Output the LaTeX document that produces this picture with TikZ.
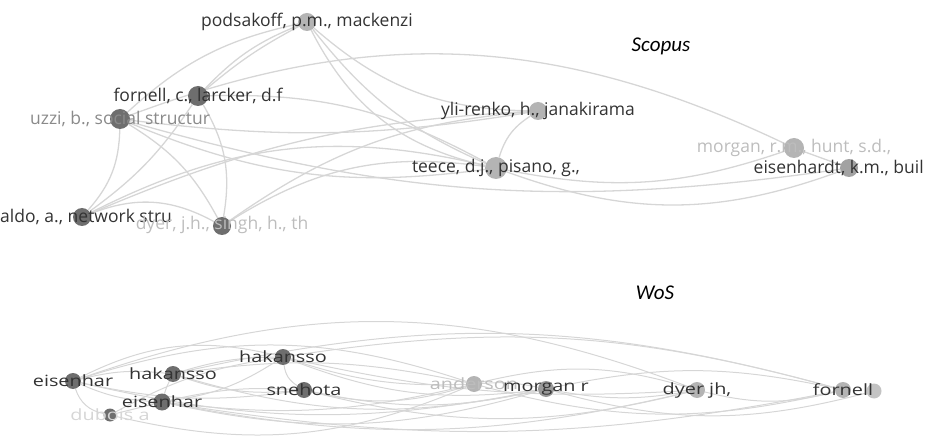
\documentclass[tikz,border=0pt]{standalone}
\usepackage{fontspec}
\setmainfont{Open Sans}
\newfontfamily\capfont{Carlito}
\newfontfamily\wosfont[FakeStretch=1.28]{Open Sans}
\usetikzlibrary{backgrounds}
\definecolor{edgegray}{HTML}{D6D6D6}
\definecolor{nodedark}{HTML}{6E6E6E}
\definecolor{nodelight}{HTML}{B4B4B4}
\definecolor{txtdark}{HTML}{333333}
\definecolor{txtmid}{HTML}{8A8A8A}
\definecolor{txtlight}{HTML}{BDBDBD}
\begin{document}
\begin{tikzpicture}[x=1pt, y=-1pt,
    dot/.style={circle, inner sep=0pt, minimum size=18pt, fill=#1},
    edge/.style={draw=edgegray, line width=1.3pt},
    lab/.style={text=#1, inner sep=0pt, font=\fontsize{17.5}{17.5}\selectfont},
    wlab/.style={text=#1, inner sep=0pt, font=\wosfont\fontsize{15.5}{15.5}\selectfont},
    title/.style={inner sep=0pt, text=black, font=\capfont\itshape\fontsize{21}{21}\selectfont}]
    \useasboundingbox (0,0) rectangle (931,446);

    % Scopus
    \node[dot=nodelight] (podsakoff) at (307,22) {};
    \node[dot=nodedark, minimum size=20pt] (fornell) at (198,96) {};
    \node[dot=nodedark, minimum size=20pt] (uzzi) at (120,119) {};
    \node[dot=nodedark] (aldo) at (82,217) {};
    \node[dot=nodedark] (dyer) at (222,226) {};
    \node[dot=nodelight] (ylirenko) at (538,111) {};
    \node[dot=nodelight, minimum size=22pt] (teece) at (496,168) {};
    \node[dot=nodelight, minimum size=20pt] (morgan) at (794,148) {};
    \node[dot=nodelight!90!black] (eisenhardt) at (849,168) {};

    \begin{scope}[on background layer]
    \foreach \a/\b/\bnd in {podsakoff/fornell/-6, podsakoff/fornell/-12, podsakoff/uzzi/-15,
        podsakoff/teece/-25, podsakoff/teece/-14, podsakoff/ylirenko/-20,
        uzzi/morgan/23, fornell/teece/15, uzzi/teece/-15, uzzi/ylirenko/-8,
        uzzi/aldo/20, uzzi/dyer/15, fornell/aldo/10, fornell/dyer/20,
        aldo/dyer/25, aldo/ylirenko/10, aldo/teece/20, dyer/teece/20, dyer/ylirenko/15,
        ylirenko/teece/-20, teece/eisenhardt/-20, teece/morgan/-15,
        uzzi/eisenhardt/-12, morgan/eisenhardt/0}
        \draw[edge] (\a) to[bend left=\bnd] (\b);
    \end{scope}

    \node[lab=txtdark] (podsakofftxt) at (podsakoff) {podsakoff, p.m., mackenzi};
    \node[lab=txtdark] (fornelltxt) at (fornell) {fornell, c., larcker, d.f};
    \node[lab=txtmid] (uzzitxt) at (uzzi) {uzzi, b., social structur};
    \node[lab=txtdark, anchor=west] (aldotxt) at (0,217) {aldo, a., network stru};
    \node[lab=txtlight] (dyertxt) at ([yshift=1pt]dyer) {dyer, j.h., singh, h., th};
    \node[lab=txtdark] (ylirenkotxt) at (ylirenko) {yli-renko, h., janakirama};
    \node[lab=txtdark] (teecetxt) at (teece) {teece, d.j., pisano, g.,};
    \node[lab=txtlight] (morgantxt) at (morgan) {morgan, r.m., hunt, s.d.,};
    \node[lab=txtdark, anchor=east] (eisenhardttxt) at (924,168) {eisenhardt, k.m., buil};
    \node[title] (scopus) at (661,46) {Scopus};

    % WoS
    \node[title] (wos) at (655,293) {WoS};
    \node[dot=nodedark, minimum size=16pt] (eisenA) at (73,381) {};
    \node[dot=nodedark, minimum size=16pt] (hakA) at (173,374) {};
    \node[dot=nodedark, minimum size=16pt] (hakB) at (283,357) {};
    \node[dot=nodedark, minimum size=16pt] (snehota) at (304,390) {};
    \node[dot=nodedark, minimum size=17pt] (eisenB) at (162,402) {};
    \node[dot=nodedark, minimum size=13pt] (dubois) at (110,415) {};
    \node[dot=nodelight, minimum size=16pt] (anderson) at (474,384) {};
    \node[dot=nodelight!85!black, minimum size=16pt] (morganr) at (546,389) {};
    \node[dot=nodelight, minimum size=16pt] (dyerjh) at (697,390) {};
    \node[dot=nodelight, minimum size=16pt] (fornellc) at (843,390) {};
    \node[dot=nodelight!80!white, minimum size=15pt] (fornelld) at (874,391) {};

    \begin{scope}[on background layer]
    \foreach \a/\b/\bnd in {eisenA/hakA/10, eisenA/eisenB/-10, eisenA/dubois/-30, eisenA/hakB/20,
        eisenA/snehota/-10, eisenA/anderson/18, eisenA/dyerjh/20, eisenA/morganr/-12,
        hakA/hakB/8, hakA/eisenB/-5, hakA/snehota/-12, hakA/anderson/10, hakA/morganr/-14,
        hakA/fornellc/14, hakB/snehota/-25, hakB/eisenB/12, hakB/anderson/-10,
        hakB/morganr/-14, hakB/dyerjh/-8, hakB/fornellc/12, eisenB/dubois/0,
        eisenB/snehota/8, eisenB/anderson/-10, eisenB/morganr/-14, eisenB/dyerjh/-12,
        eisenB/fornellc/-10, dubois/anderson/-18, dubois/hakB/10, snehota/anderson/-15,
        snehota/morganr/-12, snehota/dyerjh/-14, anderson/morganr/8, anderson/dyerjh/15,
        anderson/fornellc/-14, morganr/dyerjh/-10, morganr/fornellc/12, dyerjh/fornellc/-14,
        morganr/fornelld/-15}
        \draw[edge, line width=1pt] (\a) to[bend left=\bnd] (\b);
    \end{scope}

    \node[wlab=txtdark] (eisenAtxt) at (eisenA) {eisenhar};
    \node[wlab=txtdark] (hakAtxt) at (hakA) {hakansso};
    \node[wlab=txtdark] (hakBtxt) at (hakB) {hakansso};
    \node[wlab=txtdark] (snehotatxt) at (snehota) {snehota};
    \node[wlab=txtdark] (eisenBtxt) at (eisenB) {eisenhar};
    \node[wlab=edgegray] (duboistxt) at (dubois) {dubois a};
    \node[wlab=txtlight] (andersontxt) at (anderson) {anderson};
    \node[wlab=txtdark] (morganrtxt) at (morganr) {morgan r};
    \node[wlab=txtdark] (dyerjhtxt) at (dyerjh) {dyer jh,};
    \node[wlab=txtdark] (fornellctxt) at (fornellc) {fornell};
\end{tikzpicture}
\end{document}
